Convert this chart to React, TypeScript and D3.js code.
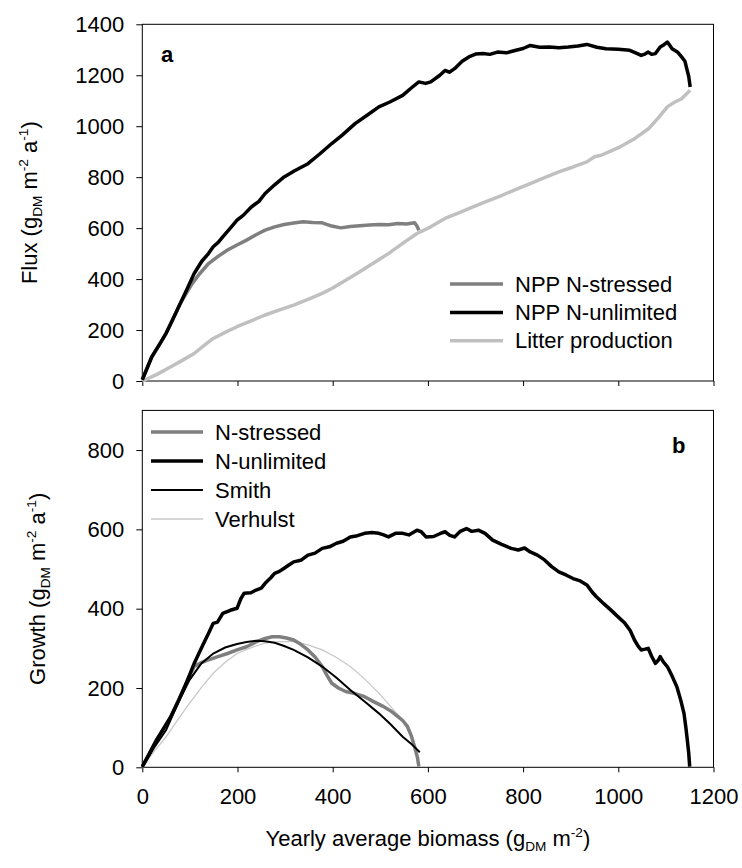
import React, { useRef, useEffect } from 'react';
import * as d3 from 'd3';

// x axis (shared), yearly average biomass
const biomassTicks = [0, 200, 400, 600, 800, 1000, 1200];
const fluxTicks = [0, 200, 400, 600, 800, 1000, 1200, 1400];
const growthTicks = [0, 200, 400, 600, 800];

// panel a: flux vs biomass  [biomass, flux]
const nppUnlimited = [
    [0, 5], [10, 50], [20, 95], [35, 140], [50, 187], [65, 245], [80, 305], [95, 365], [109, 422],
    [125, 470], [139, 500], [149, 527], [160, 545], [169, 566], [185, 600], [199, 631], [212, 650],
    [229, 683], [245, 705], [258, 736], [278, 770], [298, 801], [320, 825], [348, 853], [372, 890],
    [398, 932], [420, 965], [447, 1010], [470, 1040], [497, 1076], [520, 1095], [547, 1121],
    [565, 1150], [581, 1174], [595, 1168], [606, 1174], [625, 1200], [636, 1219], [645, 1212],
    [656, 1226], [672, 1255], [686, 1272], [700, 1283], [716, 1285], [730, 1282], [746, 1291],
    [765, 1288], [785, 1298], [800, 1305], [815, 1317], [835, 1310], [855, 1311], [875, 1308],
    [895, 1311], [915, 1315], [934, 1321], [955, 1310], [974, 1304], [1000, 1302], [1024, 1298],
    [1040, 1285], [1048, 1278], [1056, 1283], [1063, 1291], [1070, 1282], [1078, 1285],
    [1088, 1311], [1096, 1320], [1103, 1330], [1108, 1318], [1113, 1304], [1125, 1290],
    [1133, 1272], [1140, 1255], [1143, 1232], [1148, 1195], [1151, 1154]
];

const nppStressed = [
    [0, 5], [20, 95], [50, 187], [80, 305], [104, 380], [120, 420], [139, 461], [160, 490],
    [179, 514], [200, 535], [219, 553], [240, 575], [258, 592], [278, 605], [298, 614], [318, 620],
    [338, 625], [358, 622], [378, 621], [398, 608], [417, 601], [437, 606], [457, 609], [477, 612],
    [497, 614], [517, 613], [537, 618], [555, 616], [572, 621], [577, 608], [581, 592]
];

const litter = [
    [0, 0], [30, 25], [60, 56], [85, 82], [109, 108], [130, 140], [149, 167], [175, 192],
    [199, 213], [230, 237], [258, 259], [290, 280], [318, 298], [348, 320], [378, 344], [398, 363],
    [430, 398], [457, 429], [490, 468], [517, 500], [547, 540], [577, 579], [605, 604], [636, 638],
    [665, 660], [696, 684], [726, 707], [756, 729], [785, 752], [815, 775], [845, 798], [875, 821],
    [905, 840], [934, 860], [950, 880], [964, 886], [985, 903], [1004, 919], [1035, 952],
    [1064, 991], [1085, 1035], [1103, 1076], [1118, 1094], [1133, 1108], [1151, 1141]
];

// panel b: growth vs biomass  [biomass, growth]
const growthUnlimited = [
    [0, 2], [15, 35], [30, 69], [45, 98], [60, 128], [75, 165], [89, 203], [100, 235], [109, 262],
    [120, 290], [129, 313], [140, 340], [149, 363], [158, 366], [169, 388], [185, 396], [199, 401],
    [207, 425], [214, 439], [228, 440], [239, 447], [250, 452], [258, 464], [270, 478], [278, 489],
    [288, 494], [298, 502], [308, 510], [318, 518], [333, 522], [348, 535], [363, 540], [378, 552],
    [393, 556], [408, 565], [422, 570], [437, 581], [452, 584], [467, 590], [482, 592], [497, 590],
    [507, 586], [517, 581], [532, 590], [547, 590], [560, 586], [577, 598], [586, 594], [596, 581],
    [612, 582], [625, 589], [636, 594], [646, 585], [656, 581], [668, 595], [681, 602], [692, 595],
    [706, 598], [720, 590], [736, 573], [755, 562], [775, 552], [790, 548], [803, 553], [815, 543],
    [830, 535], [845, 523], [860, 506], [875, 493], [890, 485], [905, 476], [920, 470], [934, 460],
    [945, 442], [954, 430], [970, 412], [984, 397], [999, 380], [1014, 363], [1025, 345],
    [1034, 321], [1042, 305], [1048, 296], [1056, 298], [1063, 300], [1070, 280], [1078, 262],
    [1084, 270], [1088, 279], [1095, 265], [1103, 254], [1113, 230], [1123, 203], [1131, 170],
    [1138, 136], [1142, 100], [1145, 69], [1148, 35], [1150, 2]
];

const growthStressed = [
    [0, 0], [30, 69], [60, 128], [89, 203], [100, 232], [109, 254], [124, 264], [139, 271],
    [159, 279], [179, 287], [199, 296], [219, 304], [239, 316], [258, 325], [273, 329], [288, 329],
    [303, 326], [318, 321], [333, 310], [348, 296], [363, 278], [378, 254], [388, 232], [398, 212],
    [412, 200], [427, 191], [447, 186], [467, 178], [487, 165], [507, 153], [522, 142], [537, 128],
    [547, 118], [557, 103], [565, 80], [572, 52], [578, 25], [581, 2]
];

const smith = [
    [0, 0], [25, 50], [50, 94], [75, 162], [99, 220], [124, 262], [149, 287], [174, 302],
    [199, 311], [219, 316], [239, 319], [258, 318], [278, 314], [298, 306], [318, 296], [348, 277],
    [378, 254], [408, 226], [437, 195], [467, 166], [497, 136], [522, 108], [547, 77], [566, 58],
    [583, 38]
];

const verhulst = [
    [0, 0], [25, 40], [50, 77], [75, 121], [99, 161], [124, 201], [149, 237], [174, 265],
    [199, 287], [229, 302], [258, 313], [288, 317], [318, 317], [348, 309], [378, 296], [408, 277],
    [437, 254], [467, 223], [497, 187], [522, 153], [547, 119], [563, 82], [577, 35], [581, 2]
];

const legendA = [
    { label: 'NPP N-stressed', color: '#7f7f7f', width: 3.5 },
    { label: 'NPP N-unlimited', color: '#000000', width: 3.5 },
    { label: 'Litter production', color: '#c0c0c0', width: 3.5 }
];
const legendB = [
    { label: 'N-stressed', color: '#7f7f7f', width: 3.5 },
    { label: 'N-unlimited', color: '#000000', width: 3.5 },
    { label: 'Smith', color: '#000000', width: 2 },
    { label: 'Verhulst', color: '#c8c8c8', width: 1.3 }
];

const FONT = "'Liberation Sans', Arial, Helvetica, sans-serif";

// writes text with sub/superscript parts via dy shifts
function richText(sel, parts, size) {
    let offset = 0;
    parts.forEach(p => {
        const target = p.sub ? 5 : p.sup ? -9 : 0;
        sel.append('tspan')
            .attr('dy', target - offset)
            .attr('font-size', p.sub || p.sup ? size * 0.62 : size)
            .text(p.t);
        offset = target;
    });
}

const App = () => {
    const ref = useRef(null);

    useEffect(() => {
        const svg = d3.select(ref.current);
        svg.selectAll('*').remove();

        const left = 142.3, right = 713.5;
        const x = d3.scaleLinear().domain([0, 1200]).range([left, right]);
        const yA = d3.scaleLinear().domain([0, 1400]).range([381, 24.3]);
        const yB = d3.scaleLinear().domain([0, 900]).range([767.3, 410.4]);

        const line = (ys) => d3.line().x(d => x(d[0])).y(d => ys(d[1]));

        const drawPanel = (ys, ticks, showXLabels) => {
            const g = svg.append('g').attr('font-family', FONT);
            // frame
            g.append('rect')
                .attr('x', left).attr('y', ys.range()[1])
                .attr('width', right - left).attr('height', ys.range()[0] - ys.range()[1])
                .attr('fill', 'none').attr('stroke', '#000').attr('stroke-width', 1);

            const yAxis = g.append('g')
                .attr('transform', `translate(${left},0)`)
                .call(d3.axisLeft(ys).tickValues(ticks).tickSize(6).tickPadding(12).tickFormat(d3.format('d')));
            yAxis.select('.domain').remove();
            yAxis.selectAll('text').attr('font-size', 22).attr('font-family', FONT).attr('fill', '#000');

            const xAxis = g.append('g')
                .attr('transform', `translate(0,${ys.range()[0]})`)
                .call(d3.axisBottom(x).tickValues(biomassTicks).tickSize(5).tickPadding(16)
                    .tickFormat(showXLabels ? d3.format('d') : () => ''));
            xAxis.select('.domain').remove();
            xAxis.selectAll('text').attr('font-size', 22).attr('font-family', FONT).attr('fill', '#000');
            return g;
        };

        const gA = drawPanel(yA, fluxTicks, false);
        const gB = drawPanel(yB, growthTicks, true);

        // panel a curves
        gA.append('path').datum(litter).attr('d', line(yA))
            .attr('fill', 'none').attr('stroke', '#c0c0c0').attr('stroke-width', 3.5).attr('stroke-linejoin', 'round');
        gA.append('path').datum(nppStressed).attr('d', line(yA))
            .attr('fill', 'none').attr('stroke', '#7f7f7f').attr('stroke-width', 3.5).attr('stroke-linejoin', 'round');
        gA.append('path').datum(nppUnlimited).attr('d', line(yA))
            .attr('fill', 'none').attr('stroke', '#000').attr('stroke-width', 3.5).attr('stroke-linejoin', 'round');

        // panel b curves
        gB.append('path').datum(verhulst).attr('d', line(yB))
            .attr('fill', 'none').attr('stroke', '#c8c8c8').attr('stroke-width', 1.3);
        gB.append('path').datum(growthStressed).attr('d', line(yB))
            .attr('fill', 'none').attr('stroke', '#7f7f7f').attr('stroke-width', 3.5).attr('stroke-linejoin', 'round');
        gB.append('path').datum(smith).attr('d', line(yB))
            .attr('fill', 'none').attr('stroke', '#000').attr('stroke-width', 2);
        gB.append('path').datum(growthUnlimited).attr('d', line(yB))
            .attr('fill', 'none').attr('stroke', '#000').attr('stroke-width', 3.5).attr('stroke-linejoin', 'round');

        // legends
        const legend = (g, items, x0, y0, step, lineLen) => {
            items.forEach((it, i) => {
                const yy = y0 + i * step;
                g.append('line').attr('x1', x0).attr('x2', x0 + lineLen).attr('y1', yy).attr('y2', yy)
                    .attr('stroke', it.color).attr('stroke-width', it.width);
                g.append('text').attr('x', x0 + lineLen + 12).attr('y', yy)
                    .attr('dominant-baseline', 'central').attr('font-size', 22).text(it.label);
            });
        };
        legend(gA, legendA, 450, 284, 28.4, 53);
        legend(gB, legendB, 151, 432, 29, 52);

        // panel letters
        gA.append('text').attr('x', 161).attr('y', 62).attr('font-size', 22).attr('font-weight', 'bold').text('a');
        gB.append('text').attr('x', 672).attr('y', 453).attr('font-size', 22).attr('font-weight', 'bold').text('b');

        // axis titles
        const fluxTitle = svg.append('text').attr('font-family', FONT).attr('font-size', 22)
            .attr('text-anchor', 'middle')
            .attr('transform', `translate(37,${(yA.range()[0] + yA.range()[1]) / 2}) rotate(-90)`);
        richText(fluxTitle, [
            { t: 'Flux (g' }, { t: 'DM', sub: true }, { t: ' m' }, { t: '-2', sup: true },
            { t: ' a' }, { t: '-1', sup: true }, { t: ')' }
        ], 22);

        const growthTitle = svg.append('text').attr('font-family', FONT).attr('font-size', 22)
            .attr('text-anchor', 'middle')
            .attr('transform', `translate(45,${(yB.range()[0] + yB.range()[1]) / 2}) rotate(-90)`);
        richText(growthTitle, [
            { t: 'Growth (g' }, { t: 'DM', sub: true }, { t: ' m' }, { t: '-2', sup: true },
            { t: ' a' }, { t: '-1', sup: true }, { t: ')' }
        ], 22);

        const xTitle = svg.append('text').attr('font-family', FONT).attr('font-size', 22)
            .attr('text-anchor', 'middle')
            .attr('transform', `translate(${(left + right) / 2},846)`);
        richText(xTitle, [
            { t: 'Yearly average biomass (g' }, { t: 'DM', sub: true }, { t: ' m' }, { t: '-2', sup: true },
            { t: ')' }
        ], 22);
    }, []);

    return (
        <div style={{ position: 'absolute', left: 0, top: 0, background: '#fff' }}>
            <svg ref={ref} width={742} height={868} style={{ display: 'block' }}></svg>
        </div>
    );
};

export default App;
